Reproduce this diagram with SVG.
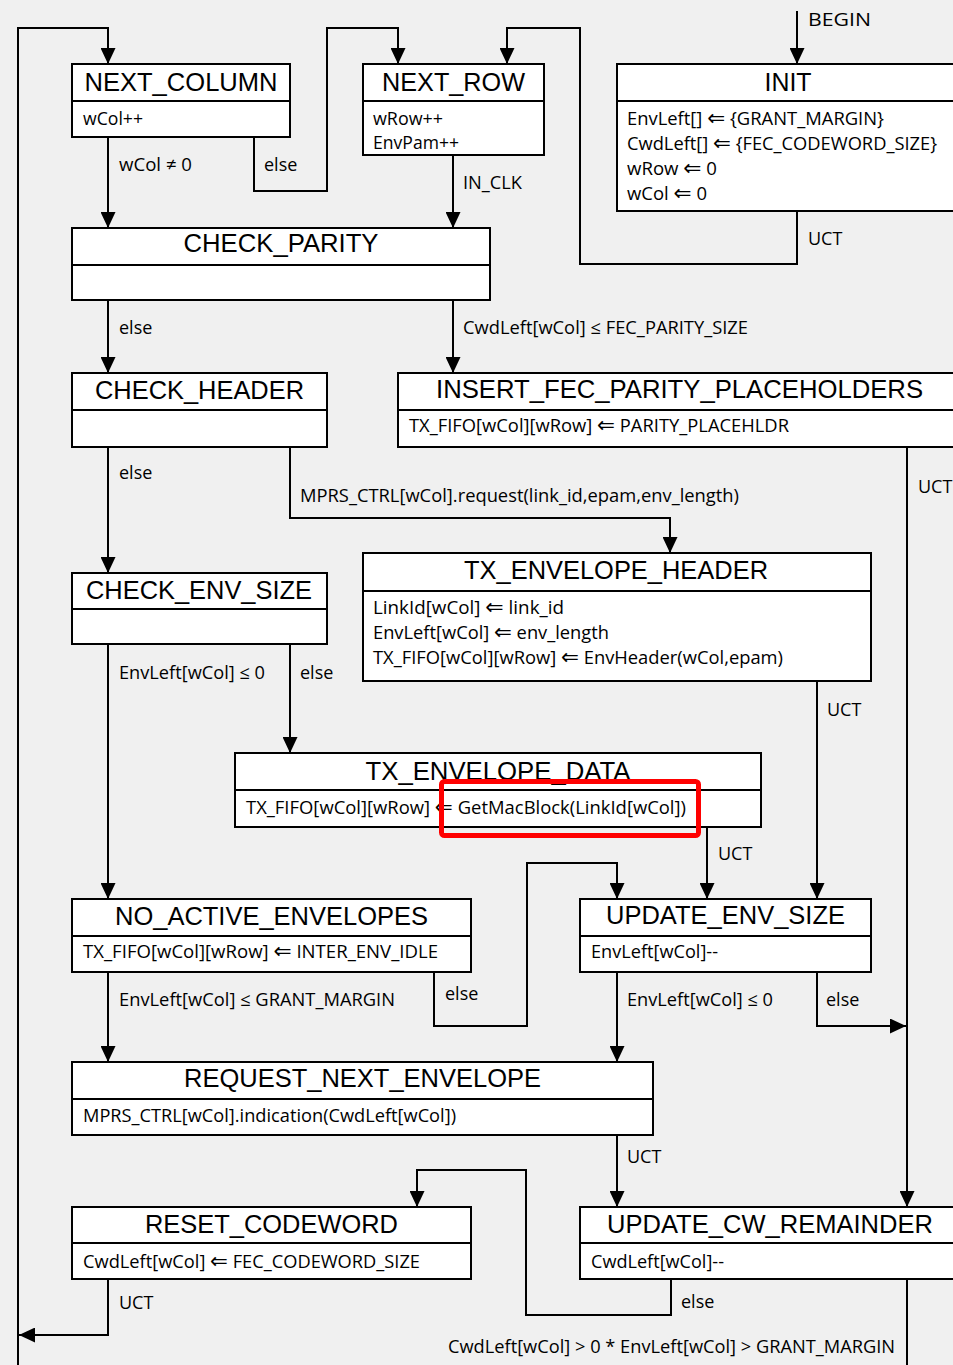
<svg xmlns="http://www.w3.org/2000/svg" width="953" height="1365" viewBox="0 0 953 1365">
<style>
.bx{fill:#fff;stroke:#000;stroke-width:2}
.dv{stroke:#000;stroke-width:2}
.t{font-family:"Liberation Sans",Arial,sans-serif;font-size:25px;fill:#000;text-anchor:middle}
.b{font-family:"Open Sans","Noto Sans","DejaVu Sans",sans-serif;font-size:18px;fill:#000}
.k{font-family:"DejaVu Sans",sans-serif;font-size:21px}
.c{fill:none;stroke:#000;stroke-width:2}
.ar{marker-end:url(#ah)}
</style>
<defs>
<marker id="ah" viewBox="0 0 16 15" refX="16" refY="7.5" markerWidth="16" markerHeight="15" orient="auto" markerUnits="userSpaceOnUse">
<path d="M0,0 L16,7.5 L0,15 z" fill="#000"/>
</marker>
</defs>
<rect width="953" height="1365" fill="#f0f0f0"/>

<g id="connectors">
<path class="c ar" d="M18,1365 V28 H108 V64"/>
<path class="c ar" d="M108,137 V228"/>
<path class="c ar" d="M254,137 V191 H327 V28 H398 V64"/>
<path class="c ar" d="M453,155 V228"/>
<path class="c ar" d="M797,11 V64"/>
<path class="c ar" d="M797,211 V264 H580 V28 H507 V64"/>
<path class="c ar" d="M108,300 V373"/>
<path class="c ar" d="M453,300 V373"/>
<path class="c ar" d="M108,447 V573"/>
<path class="c ar" d="M290,447 V518 H670 V553"/>
<path class="c ar" d="M907,447 V1207"/>
<path class="c ar" d="M108,644 V899"/>
<path class="c ar" d="M290,644 V753"/>
<path class="c ar" d="M817,681 V899"/>
<path class="c ar" d="M707,827 V899"/>
<path class="c ar" d="M434,972 V1026 H527 V863 H617 V899"/>
<path class="c ar" d="M108,972 V1062"/>
<path class="c ar" d="M617,972 V1062"/>
<path class="c ar" d="M817,972 V1026 H906"/>
<path class="c ar" d="M617,1135 V1207"/>
<path class="c ar" d="M671,1279 V1315 H526 V1170 H417 V1207"/>
<path class="c" d="M907,1279 V1365"/>
<path class="c ar" d="M108,1279 V1335 H19"/>
<g class="b">
<text x="119" y="171" textLength="73" lengthAdjust="spacingAndGlyphs">wCol ≠ 0</text>
<text x="264" y="171">else</text>
<text x="463" y="189" textLength="59" lengthAdjust="spacingAndGlyphs">IN_CLK</text>
<text x="808" y="26" textLength="63" lengthAdjust="spacingAndGlyphs" style="font-size:19px">BEGIN</text>
<text x="808" y="245">UCT</text>
<text x="119" y="334">else</text>
<text x="463" y="334" textLength="285" lengthAdjust="spacingAndGlyphs">CwdLeft[wCol] ≤ FEC_PARITY_SIZE</text>
<text x="119" y="479">else</text>
<text x="300" y="502" textLength="439" lengthAdjust="spacingAndGlyphs">MPRS_CTRL[wCol].request(link_id,epam,env_length)</text>
<text x="918" y="493">UCT</text>
<text x="119" y="679" textLength="146" lengthAdjust="spacingAndGlyphs">EnvLeft[wCol] ≤ 0</text>
<text x="300" y="679">else</text>
<text x="827" y="716">UCT</text>
<text x="718" y="860">UCT</text>
<text x="119" y="1006" textLength="276" lengthAdjust="spacingAndGlyphs">EnvLeft[wCol] ≤ GRANT_MARGIN</text>
<text x="445" y="1000">else</text>
<text x="627" y="1006" textLength="146" lengthAdjust="spacingAndGlyphs">EnvLeft[wCol] ≤ 0</text>
<text x="826" y="1006">else</text>
<text x="627" y="1163">UCT</text>
<text x="119" y="1309">UCT</text>
<text x="681" y="1308">else</text>
<text x="448" y="1353" textLength="447" lengthAdjust="spacingAndGlyphs">CwdLeft[wCol] &gt; 0 * EnvLeft[wCol] &gt; GRANT_MARGIN</text>
</g>
</g>

<g id="NEXT_COLUMN">
<rect class="bx" x="72" y="64" width="218" height="73"/>
<line class="dv" x1="72" y1="101" x2="290" y2="101"/>
<text class="t" x="181" y="91" textLength="193" lengthAdjust="spacingAndGlyphs">NEXT_COLUMN</text>
<text class="b" x="83" y="125" textLength="60" lengthAdjust="spacingAndGlyphs">wCol++</text>
</g>

<g id="NEXT_ROW">
<rect class="bx" x="363" y="64" width="181" height="91"/>
<line class="dv" x1="363" y1="101" x2="544" y2="101"/>
<text class="t" x="453.5" y="91" textLength="143" lengthAdjust="spacingAndGlyphs">NEXT_ROW</text>
<text class="b" x="373" y="125" textLength="70" lengthAdjust="spacingAndGlyphs">wRow++</text>
<text class="b" x="373" y="149" textLength="86" lengthAdjust="spacingAndGlyphs">EnvPam++</text>
</g>

<g id="INIT">
<rect class="bx" x="617" y="64" width="342" height="147"/>
<line class="dv" x1="617" y1="101" x2="959" y2="101"/>
<text class="t" x="788" y="91" textLength="47" lengthAdjust="spacingAndGlyphs">INIT</text>
<text class="b" x="627" y="125" textLength="257" lengthAdjust="spacingAndGlyphs">EnvLeft[] <tspan class="k">⇐</tspan> {GRANT_MARGIN}</text>
<text class="b" x="627" y="150" textLength="310" lengthAdjust="spacingAndGlyphs">CwdLeft[] <tspan class="k">⇐</tspan> {FEC_CODEWORD_SIZE}</text>
<text class="b" x="627" y="175" textLength="90" lengthAdjust="spacingAndGlyphs">wRow <tspan class="k">⇐</tspan> 0</text>
<text class="b" x="627" y="200" textLength="80" lengthAdjust="spacingAndGlyphs">wCol <tspan class="k">⇐</tspan> 0</text>
</g>

<g id="CHECK_PARITY">
<rect class="bx" x="72" y="228" width="418" height="72"/>
<line class="dv" x1="72" y1="265" x2="490" y2="265"/>
<text class="t" x="281" y="252" textLength="195" lengthAdjust="spacingAndGlyphs">CHECK_PARITY</text>
</g>

<g id="CHECK_HEADER">
<rect class="bx" x="72" y="373" width="255" height="74"/>
<line class="dv" x1="72" y1="410" x2="327" y2="410"/>
<text class="t" x="199.5" y="399" textLength="209" lengthAdjust="spacingAndGlyphs">CHECK_HEADER</text>
</g>

<g id="INSERT_FEC_PARITY_PLACEHOLDERS">
<rect class="bx" x="398" y="373" width="564" height="74"/>
<line class="dv" x1="398" y1="410" x2="962" y2="410"/>
<text class="t" x="679.5" y="398" textLength="487" lengthAdjust="spacingAndGlyphs">INSERT_FEC_PARITY_PLACEHOLDERS</text>
<text class="b" x="409" y="432" textLength="380" lengthAdjust="spacingAndGlyphs">TX_FIFO[wCol][wRow] <tspan class="k">⇐</tspan> PARITY_PLACEHLDR</text>
</g>

<g id="CHECK_ENV_SIZE">
<rect class="bx" x="72" y="573" width="255" height="71"/>
<line class="dv" x1="72" y1="609" x2="327" y2="609"/>
<text class="t" x="199" y="599" textLength="226" lengthAdjust="spacingAndGlyphs">CHECK_ENV_SIZE</text>
</g>

<g id="TX_ENVELOPE_HEADER">
<rect class="bx" x="363" y="553" width="508" height="128"/>
<line class="dv" x1="363" y1="591" x2="871" y2="591"/>
<text class="t" x="616" y="579" textLength="304" lengthAdjust="spacingAndGlyphs">TX_ENVELOPE_HEADER</text>
<text class="b" x="373" y="614" textLength="191" lengthAdjust="spacingAndGlyphs">LinkId[wCol]  <tspan class="k">⇐</tspan> link_id</text>
<text class="b" x="373" y="639" textLength="236" lengthAdjust="spacingAndGlyphs">EnvLeft[wCol] <tspan class="k">⇐</tspan> env_length</text>
<text class="b" x="373" y="664" textLength="410" lengthAdjust="spacingAndGlyphs">TX_FIFO[wCol][wRow] <tspan class="k">⇐</tspan> EnvHeader(wCol,epam)</text>
</g>

<g id="TX_ENVELOPE_DATA">
<rect class="bx" x="235" y="753" width="526" height="74"/>
<line class="dv" x1="235" y1="790" x2="761" y2="790"/>
<text class="t" x="498" y="780" textLength="265" lengthAdjust="spacingAndGlyphs">TX_ENVELOPE_DATA</text>
<text class="b" x="246" y="814" textLength="440" lengthAdjust="spacingAndGlyphs">TX_FIFO[wCol][wRow] <tspan class="k">⇐</tspan> GetMacBlock(LinkId[wCol])</text>
</g>

<g id="NO_ACTIVE_ENVELOPES">
<rect class="bx" x="72" y="899" width="399" height="73"/>
<line class="dv" x1="72" y1="936" x2="471" y2="936"/>
<text class="t" x="271.5" y="925" textLength="313" lengthAdjust="spacingAndGlyphs">NO_ACTIVE_ENVELOPES</text>
<text class="b" x="83" y="958" textLength="355" lengthAdjust="spacingAndGlyphs">TX_FIFO[wCol][wRow] <tspan class="k">⇐</tspan> INTER_ENV_IDLE</text>
</g>

<g id="UPDATE_ENV_SIZE">
<rect class="bx" x="580" y="899" width="291" height="73"/>
<line class="dv" x1="580" y1="936" x2="871" y2="936"/>
<text class="t" x="725.5" y="924" textLength="239" lengthAdjust="spacingAndGlyphs">UPDATE_ENV_SIZE</text>
<text class="b" x="591" y="958" textLength="127" lengthAdjust="spacingAndGlyphs">EnvLeft[wCol]--</text>
</g>

<g id="REQUEST_NEXT_ENVELOPE">
<rect class="bx" x="72" y="1062" width="581" height="73"/>
<line class="dv" x1="72" y1="1099" x2="653" y2="1099"/>
<text class="t" x="362.5" y="1087" textLength="357" lengthAdjust="spacingAndGlyphs">REQUEST_NEXT_ENVELOPE</text>
<text class="b" x="83" y="1122" textLength="373" lengthAdjust="spacingAndGlyphs">MPRS_CTRL[wCol].indication(CwdLeft[wCol])</text>
</g>

<g id="RESET_CODEWORD">
<rect class="bx" x="72" y="1207" width="399" height="72"/>
<line class="dv" x1="72" y1="1243" x2="471" y2="1243"/>
<text class="t" x="271.5" y="1233" textLength="253" lengthAdjust="spacingAndGlyphs">RESET_CODEWORD</text>
<text class="b" x="83" y="1268" textLength="337" lengthAdjust="spacingAndGlyphs">CwdLeft[wCol] <tspan class="k">⇐</tspan> FEC_CODEWORD_SIZE</text>
</g>

<g id="UPDATE_CW_REMAINDER">
<rect class="bx" x="580" y="1207" width="380" height="72"/>
<line class="dv" x1="580" y1="1243" x2="960" y2="1243"/>
<text class="t" x="770" y="1233" textLength="326" lengthAdjust="spacingAndGlyphs">UPDATE_CW_REMAINDER</text>
<text class="b" x="591" y="1268" textLength="133" lengthAdjust="spacingAndGlyphs">CwdLeft[wCol]--</text>
</g>

<g id="highlight">
<rect x="441.5" y="781.5" width="257" height="54" rx="3" fill="none" stroke="#ff0000" stroke-width="5"/>
</g>
</svg>
